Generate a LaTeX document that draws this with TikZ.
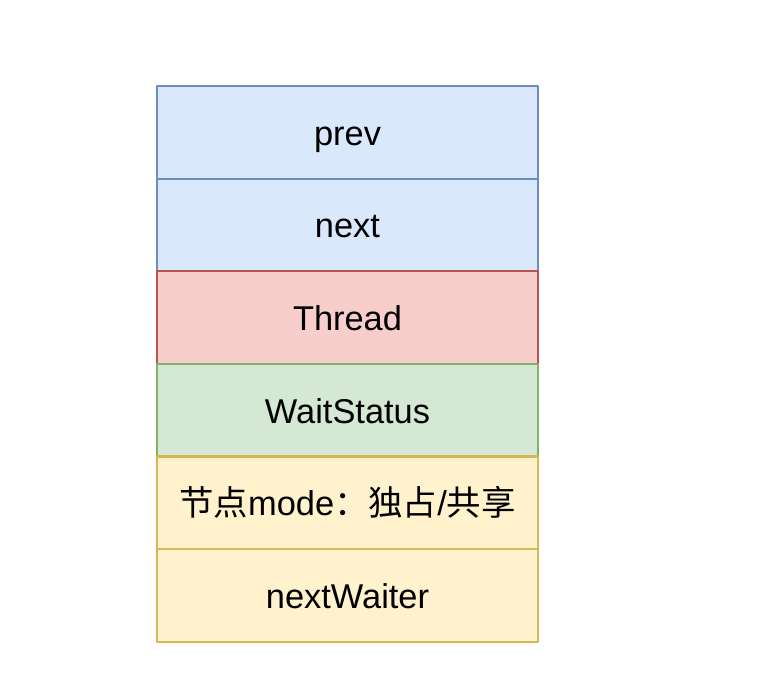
\documentclass[tikz,border=0pt]{standalone}
\usepackage{fontspec}
\setmainfont{Liberation Sans}
\newfontfamily\cjk{Noto Sans CJK SC}
\usetikzlibrary{positioning}
\definecolor{blueFill}{HTML}{DAE8FC}
\definecolor{blueLine}{HTML}{6C8EBF}
\definecolor{redFill}{HTML}{F8CECC}
\definecolor{redLine}{HTML}{B85450}
\definecolor{greenFill}{HTML}{D5E8D4}
\definecolor{greenLine}{HTML}{82B366}
\definecolor{yellowFill}{HTML}{FFF2CC}
\definecolor{yellowLine}{HTML}{D6B656}
\tikzset{
  field/.style={draw,rectangle,line width=1.1pt,minimum width=190.5pt,minimum height=46.3pt,
    inner sep=0pt,outer sep=0pt,text height=16.6pt,text depth=3.6pt,
    font=\fontsize{17.2}{20}\selectfont},
  blueField/.style={field,fill=blueFill,draw=blueLine},
  redField/.style={field,fill=redFill,draw=redLine},
  greenField/.style={field,fill=greenFill,draw=greenLine},
  yellowField/.style={field,fill=yellowFill,draw=yellowLine}
}
\begin{document}
\begin{tikzpicture}[line cap=round,line join=round,x=0.5pt,y=-0.5pt]
\useasboundingbox[fill=white] (0,0) rectangle (758,692);
\node[blueField] (prev) at (347.5,132.3) {prev};
\node[blueField,below=0pt of prev] (next) {next};
\node[redField,below=0pt of next] (thread) {Thread};
\node[greenField,below=0pt of thread] (waitStatus) {WaitStatus};
\node[yellowField,below=0pt of waitStatus] (mode) {{\cjk 节点}mode{\cjk ：独占}/{\cjk 共享}};
\node[yellowField,below=0pt of mode] (nextWaiter) {nextWaiter};
\end{tikzpicture}
\end{document}
